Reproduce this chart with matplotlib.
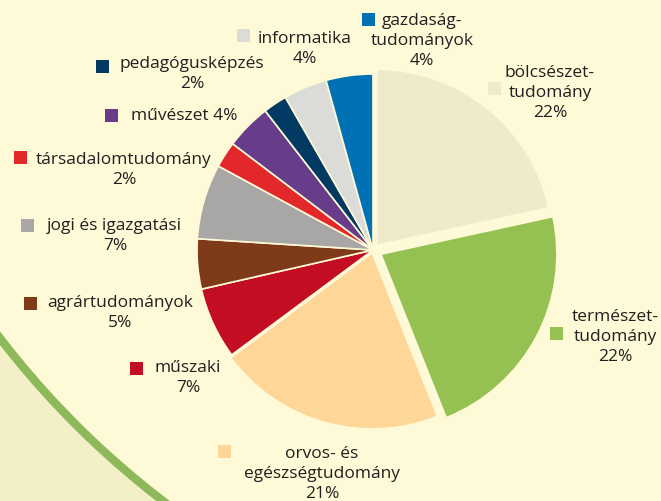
import matplotlib.pyplot as plt
from matplotlib.patches import Circle, Rectangle

# slices, clockwise from 12 o'clock
names = ['bölcsészet-\ntudomány', 'természet-\ntudomány', 'orvos- és\negészségtudomány',
         'műszaki', 'agrártudományok', 'jogi és igazgatási', 'társadalomtudomány',
         'művészet', 'pedagógusképzés', 'informatika', 'gazdaság-\ntudományok']
shares = [21.6, 22.4, 20.9, 6.6, 4.6, 6.9, 2.4, 4.2, 2.2, 4.0, 4.3]
colors = ['#EEEACA', '#95C153', '#FDD698', '#C20D23', '#7F3B19', '#A8A7A5',
          '#E2282A', '#673C8B', '#023A63', '#DBDBD7', '#0071B5']
explode = [6, 9, 3, 0, 0, 0, 0, 0, 0, 0, 0]   # pixels

# label layout: square left, square top, text x, first baseline (image px)
label_pos = [(488, 82, 550, 77), (550, 327, 615, 321), (218, 445, 322, 458),
             (130, 362, 188, 372), (24, 297, 120, 307), (21, 219, 115, 230),
             (14, 151, 124, 164), (105, 109, 131, 120), (96, 60, 192, 68),
             (237, 29, 305, 43), (362, 13, 422, 25)]

W, H = 661, 501
bg = '#FEF9D7'
txt = '#231F20'

fig = plt.figure(figsize=(W / 100, H / 100), dpi=100, facecolor='#F3F0C8')
ax = fig.add_axes([0, 0, 1, 1])
ax.set_facecolor('none')

# decorative big circle, lower-left corner stays outside it
ax.add_patch(Circle((700, H + 200), 883, facecolor=bg, edgecolor='#8DB95A',
                    linewidth=6, zorder=0))

ax.pie(shares, colors=colors, startangle=90, counterclock=False,
       center=(373, H - 250), radius=176, explode=explode,
       wedgeprops=dict(edgecolor=bg, linewidth=1.2))

sq = 12.5
lh = 20
for i, (name, v) in enumerate(zip(names, shares)):
    x_sq, y_sq, tx, base = label_pos[i]
    ax.add_patch(Rectangle((x_sq, H - y_sq - sq), sq, sq, facecolor=colors[i],
                           edgecolor='none', zorder=3))
    pct = f'{round(v)}%'
    if i == 7:
        lines = [f'{name} {pct}']
        ha = 'left'
    else:
        lines = name.split('\n') + [pct]
        ha = 'center'
    for k, line in enumerate(lines):
        ax.text(tx, H - (base + k * lh), line, ha=ha, va='baseline',
                fontsize=12.5, family='Open Sans', color=txt)

ax.set_xlim(0, W)
ax.set_ylim(0, H)
ax.set_aspect('auto')
ax.axis('off')

fig.savefig('out.png', dpi=100, facecolor=fig.get_facecolor())
